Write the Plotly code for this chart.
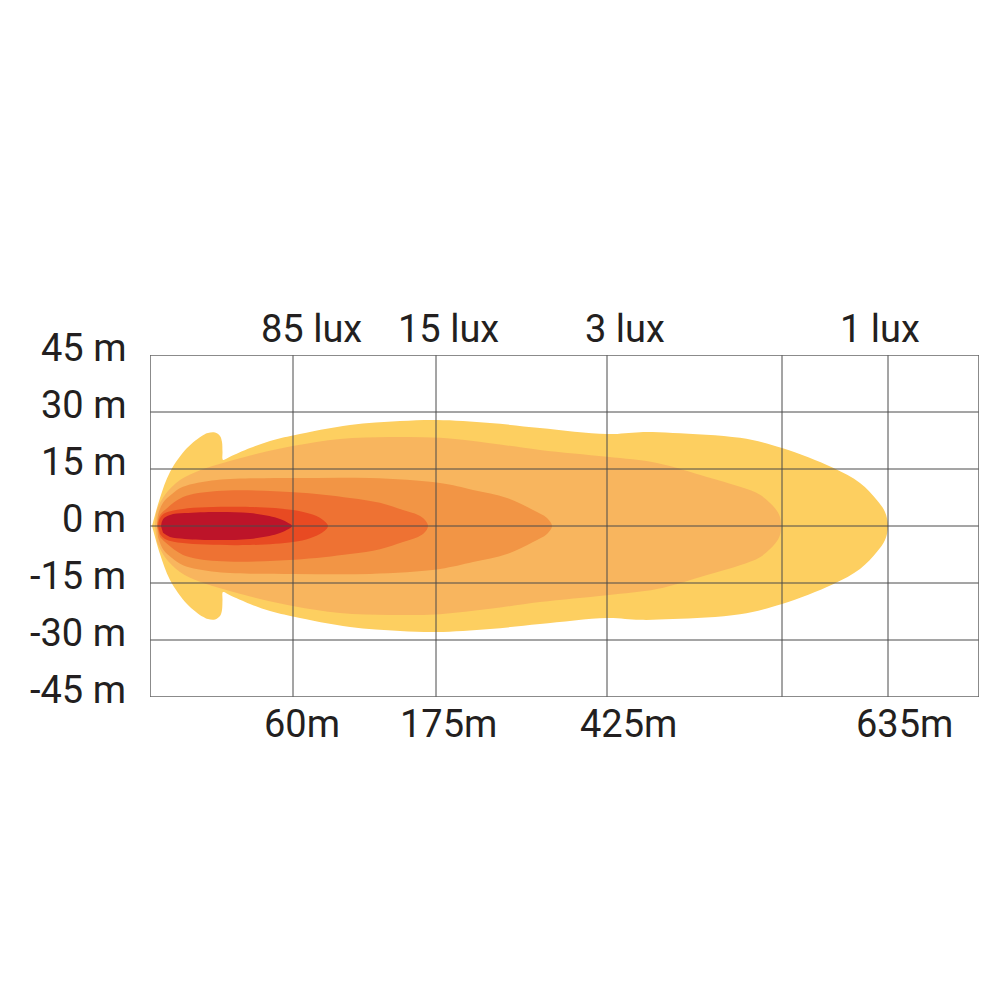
import plotly.graph_objects as go

# ---- data (schematic x units = horizontal position in the diagram, y = metres) ----
grid_x = [143, 286, 457, 632, 738]
grid_y = [-30, -15, 0, 15, 30]
x_range = [0, 829]
y_range = [-45, 45]

y_tick_vals = [45, 30, 15, 0, -15, -30, -45]
y_tick_text = ["45 m", "30 m", "15 m", "0 m", "-15 m", "-30 m", "-45 m"]

lux_labels = ["85 lux", "15 lux", "3 lux", "1 lux"]
lux_label_x = [161, 298, 475, 730]
dist_labels = ["60m", "175m", "425m", "635m"]
dist_label_x = [152, 298, 478, 754]

# contour half-widths (top half, mirrored below), outer -> inner
l1_x = [2, 5, 10, 20, 37, 53, 58, 65, 70, 72, 72.5, 73, 80, 100, 120, 144, 200, 250, 287,
        340, 390, 457, 490, 523, 590, 632, 683, 710, 727, 735, 738]
l1_h = [0, 2.9, 7.4, 14.2, 20.5, 23.9, 24.5, 24.6, 23.7, 22.1, 19.5, 17.4, 18.2, 20.5, 22.4,
        23.9, 26.6, 27.6, 27.9, 27.1, 25.8, 24.2, 24.7, 24.5, 23.2, 20.5, 15.3, 11.3, 6.8, 3.7, 0]

l2_x = [5, 7, 15, 30, 50, 73, 110, 144, 190, 240, 290, 340, 390, 457, 507, 557, 590, 610, 625, 630, 631]
l2_h = [0, 4.2, 8.2, 12.1, 14.7, 16.6, 19.2, 21.1, 22.9, 23.4, 23.2, 21.8, 20.0, 18.2, 16.6,
        12.9, 10.3, 8.2, 4.7, 2.4, 0]

l3_x = [7, 8, 13, 22, 33, 67, 144, 220, 290, 323, 357, 383, 397, 402]
l3_h = [0, 2.9, 6.1, 8.4, 10.3, 12.1, 12.6, 12.6, 11.3, 9.5, 7.4, 4.2, 2.1, 0]

l4_x = [7, 10, 17, 33, 67, 144, 200, 230, 253, 268, 275, 278]
l4_h = [0, 2.9, 4.7, 7.6, 9.2, 8.9, 7.4, 6.1, 4.2, 2.9, 1.6, 0]

l5_x = [8, 10, 15, 33, 100, 143, 160, 172, 178]
l5_h = [0, 2.1, 3.4, 4.5, 5.0, 4.2, 3.2, 1.8, 0]

l6_x = [11, 13, 20, 35, 67, 100, 127, 137, 142]
l6_h = [0, 1.8, 2.9, 3.4, 3.7, 3.4, 2.1, 1.0, 0]

layers = [
    (l1_x, l1_h, "#FDCF60"),
    (l2_x, l2_h, "#F8B55E"),
    (l3_x, l3_h, "#F29545"),
    (l4_x, l4_h, "#EE7233"),
    (l5_x, l5_h, "#E84A22"),
    (l6_x, l6_h, "#BD1429"),
]

FONT = "Roboto"
TXT = "#231F20"
GRID = "#4a4a4a"

fig = go.Figure()
for xs, hs, col in layers:
    px = list(xs) + list(reversed(xs))[1:-1]
    py = list(hs) + [-h for h in reversed(hs)][1:-1]
    fig.add_trace(go.Scatter(
        x=px, y=py, mode="lines", fill="toself", fillcolor=col,
        line=dict(width=0, color=col, shape="spline", smoothing=1.0),
        hoverinfo="skip", showlegend=False,
    ))

shapes = []
for gx in grid_x:
    shapes.append(dict(type="line", xref="x", yref="y", x0=gx, x1=gx, y0=y_range[0], y1=y_range[1],
                       line=dict(color=GRID, width=1), layer="above"))
for gy in grid_y:
    shapes.append(dict(type="line", xref="x", yref="y", x0=x_range[0], x1=x_range[1], y0=gy, y1=gy,
                       line=dict(color=GRID, width=1), layer="above"))
shapes.append(dict(type="rect", xref="x", yref="y", x0=x_range[0], x1=x_range[1],
                   y0=y_range[0], y1=y_range[1], line=dict(color="#666666", width=1.5), layer="above"))

annotations = []
for t, v in zip(y_tick_text, y_tick_vals):
    annotations.append(dict(text=t, xref="paper", yref="y", x=0, y=v, xanchor="right", yanchor="middle",
                            xshift=-22, yshift=7, showarrow=False, font=dict(family=FONT, size=38, color=TXT)))
for t, xv in zip(lux_labels, lux_label_x):
    annotations.append(dict(text=t, xref="x", yref="paper", x=xv, y=1, xanchor="center", yanchor="bottom",
                            yshift=2, showarrow=False, font=dict(family=FONT, size=38, color=TXT)))
for t, xv in zip(dist_labels, dist_label_x):
    annotations.append(dict(text=t, xref="x", yref="paper", x=xv, y=0, xanchor="center", yanchor="top",
                            yshift=-3, showarrow=False, font=dict(family=FONT, size=38, color=TXT)))

fig.update_layout(
    width=1000, height=1000,
    margin=dict(l=142, r=29, t=347, b=311),
    paper_bgcolor="white", plot_bgcolor="white",
    xaxis=dict(range=x_range, showgrid=False, zeroline=False, showticklabels=False, ticks="", fixedrange=True),
    yaxis=dict(range=y_range, showgrid=False, zeroline=False, showticklabels=False, ticks="", fixedrange=True),
    shapes=shapes, annotations=annotations, showlegend=False,
)

fig.write_html("out.html")
